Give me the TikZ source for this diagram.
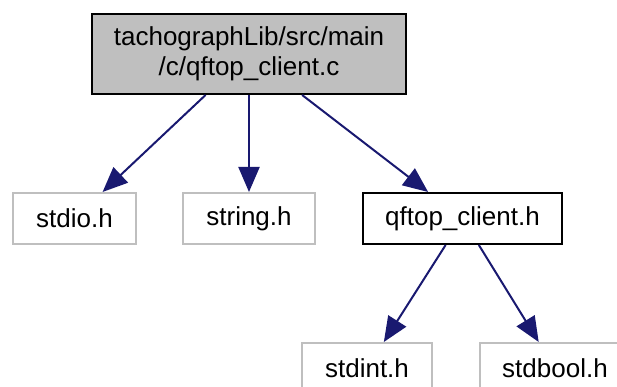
\documentclass[tikz,border=0pt]{standalone}
\usepackage{fontspec}
\setmainfont{Liberation Sans}
\usetikzlibrary{arrows.meta}
\definecolor{edgeblue}{HTML}{191970}
\definecolor{boxgray}{HTML}{BFBFBF}
\tikzset{
  filebox/.style={draw=boxgray, line width=2pt, fill=white, rectangle, inner sep=0pt,
    minimum height=51pt, align=center, font=\fontsize{26}{30}\selectfont},
  docbox/.style={filebox, draw=black},
  rootbox/.style={filebox, draw=black, fill=boxgray, minimum height=80pt},
  edge/.style={draw=edgeblue, line width=2pt, -{Triangle[length=25pt, width=21pt]}},
}
\begin{document}
\begin{tikzpicture}[x=1pt, y=-1pt]
  \useasboundingbox (0,0) rectangle (617,387);
  \node[rootbox, minimum width=314pt] (root) at (249,54) {tachographLib/src/main\\/c/qftop\_client.c};
  \node[filebox, minimum width=123pt] (stdio) at (74.5,218.5) {stdio.h};
  \node[filebox, minimum width=132pt] (string) at (249,218.5) {string.h};
  \node[docbox, minimum width=199pt] (qftop) at (462.5,218.5) {qftop\_client.h};
  \node[filebox, minimum width=130pt] (stdint) at (367,368.5) {stdint.h};
  \node[filebox, minimum width=150pt] (stdbool) at (555,368.5) {stdbool.h};
  \draw[edge] (root) -- (stdio);
  \draw[edge] (root) -- (string);
  \draw[edge] (root) -- (qftop);
  \draw[edge] (qftop) -- (stdint);
  \draw[edge] (qftop) -- (stdbool);
\end{tikzpicture}
\end{document}
